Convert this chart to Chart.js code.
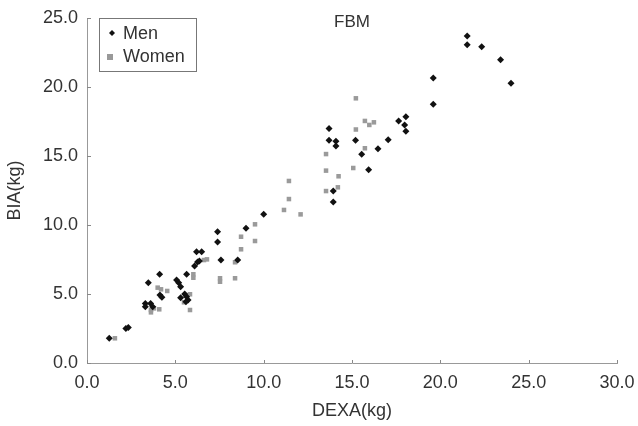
<!DOCTYPE html>
<html>
<head>
<meta charset="utf-8">
<script src="https://cdn.jsdelivr.net/npm/chart.js@4"></script>
<style>
  html, body { margin: 0; padding: 0; background: #fff; }
  canvas { display: block; }
</style>
</head>
<body>
<canvas id="grafico" width="638" height="426"></canvas>
<script>
// values (DEXA kg, BIA kg)
const menX = [1.26, 2.2, 2.34, 3.3, 3.3, 3.6, 3.72, 3.47, 4.11, 4.13, 4.24, 5.07, 5.19, 5.3, 5.64, 5.3, 5.53, 5.64, 5.72, 5.6,
  6.09, 6.26, 6.36, 6.2, 6.49, 7.58, 7.39, 7.39, 8.53, 9.0, 10.0, 13.94, 13.94, 13.7, 13.7, 14.09, 14.09, 15.2, 15.55, 15.94,
  16.47, 17.05, 17.64, 18.05, 17.98, 18.05, 19.6, 19.6, 21.52, 21.52, 22.34, 23.41, 24.0];
const menY = [1.79, 2.5, 2.58, 4.32, 4.08, 4.32, 4.08, 5.82, 6.43, 4.93, 4.76, 6.01, 5.82, 5.53, 6.43, 4.73, 5.0, 4.8, 4.57, 4.44,
  7.03, 7.32, 7.39, 8.07, 8.07, 7.46, 9.51, 8.77, 7.46, 9.76, 10.77, 12.46, 11.67, 17.0, 16.14, 16.07, 15.72, 16.14, 15.12, 14.01,
  15.53, 16.18, 17.54, 17.85, 17.25, 16.79, 18.75, 20.65, 23.7, 23.07, 22.92, 21.98, 20.27];

const womenX = [1.58, 4.0, 4.19, 4.54, 3.62, 3.62, 3.79, 4.09, 6.02, 6.02, 5.83, 5.49, 5.83, 6.62, 6.79, 7.53, 7.53, 8.38, 8.38,
  8.72, 9.51, 9.51, 8.72, 11.15, 11.43, 11.43, 12.09, 13.53, 14.2, 13.53, 13.53, 14.24, 15.07, 15.73, 15.22, 15.73, 15.98, 16.24, 15.22];
const womenY = [1.79, 5.46, 5.34, 5.22, 3.84, 3.67, 3.96, 3.89, 6.43, 6.18, 4.98, 4.4, 3.84, 7.46, 7.51, 6.14, 5.89, 7.3, 6.14,
  9.15, 10.05, 8.84, 8.24, 11.09, 11.88, 13.19, 10.77, 12.46, 12.73, 15.14, 13.94, 13.53, 14.13, 15.56, 16.92, 17.54, 17.25, 17.44, 19.18];

const xTicks = [0, 5, 10, 15, 20, 25, 30];
const yTicks = [0, 5, 10, 15, 20, 25];

const pares = (xs, ys) => xs.map((x, i) => ({ x, y: ys[i] }));

const corTexto = '#333';
const fonte = 'Liberation Sans, Arial, sans-serif';

// ticks pequenos para dentro, titulo FBM e legenda com moldura
const extras = {
  id: 'extras',
  afterDraw(chart) {
    const ctx = chart.ctx;
    const sx = chart.scales.x, sy = chart.scales.y;
    const a = chart.chartArea;
    ctx.save();
    ctx.strokeStyle = '#888';
    ctx.lineWidth = 1;
    yTicks.forEach(v => {
      const py = Math.round(sy.getPixelForValue(v)) + 0.5;
      ctx.beginPath(); ctx.moveTo(a.left, py); ctx.lineTo(a.left + 4, py); ctx.stroke();
    });
    xTicks.forEach(v => {
      const px = Math.round(sx.getPixelForValue(v)) + 0.5;
      ctx.beginPath(); ctx.moveTo(px, a.bottom); ctx.lineTo(px, a.bottom - 3); ctx.stroke();
    });

    ctx.fillStyle = corTexto;
    ctx.font = '17px ' + fonte;
    ctx.textAlign = 'center';
    ctx.textBaseline = 'middle';
    ctx.fillText('FBM', (a.left + a.right) / 2, 22);

    // legenda
    ctx.strokeStyle = '#777';
    ctx.strokeRect(99.5, 18.5, 97, 53);
    ctx.textAlign = 'left';
    ctx.font = '18px ' + fonte;
    ctx.fillStyle = '#111';
    ctx.beginPath();
    ctx.moveTo(112, 30); ctx.lineTo(115, 33); ctx.lineTo(112, 36); ctx.lineTo(109, 33); ctx.closePath(); ctx.fill();
    ctx.fillStyle = corTexto;
    ctx.fillText('Men', 123, 34);
    ctx.fillStyle = '#999';
    ctx.fillRect(107, 54, 6, 6);
    ctx.fillStyle = corTexto;
    ctx.fillText('Women', 123, 57);
    ctx.restore();
  }
};

new Chart(document.getElementById('grafico'), {
  type: 'scatter',
  data: {
    datasets: [{
      label: 'Men',
      data: pares(menX, menY),
      pointStyle: 'rectRot',
      pointRadius: 3.5,
      backgroundColor: '#111',
      borderColor: '#111',
      borderWidth: 0
    }, {
      label: 'Women',
      data: pares(womenX, womenY),
      pointStyle: 'rect',
      pointRadius: 3.2,
      backgroundColor: '#9a9a9a',
      borderColor: '#9a9a9a',
      borderWidth: 0
    }]
  },
  options: {
    responsive: false,
    animation: false,
    devicePixelRatio: 1,
    layout: { padding: { left: 0, right: 21, top: 18, bottom: 0 } },
    plugins: { legend: { display: false }, tooltip: { enabled: false } },
    scales: {
      x: {
        type: 'linear', min: 0, max: 30,
        afterBuildTicks: s => { s.ticks = xTicks.map(v => ({ value: v })); },
        afterFit: s => { s.height = 63; s.paddingLeft = 0; s.paddingRight = 0; },
        grid: { display: false, drawTicks: false },
        border: { color: '#999', width: 1 },
        ticks: { padding: 9, maxRotation: 0, color: corTexto, font: { size: 18, family: fonte }, callback: v => v.toFixed(1) },
        title: { display: true, text: 'DEXA(kg)', color: corTexto, font: { size: 18, family: fonte }, padding: { top: 3 } }
      },
      y: {
        type: 'linear', min: 0, max: 25,
        afterBuildTicks: s => { s.ticks = yTicks.map(v => ({ value: v })); },
        afterFit: s => { s.width = 87; s.paddingTop = 0; s.paddingBottom = 0; },
        grid: { display: false, drawTicks: false },
        border: { color: '#999', width: 1 },
        ticks: { padding: 9, color: corTexto, font: { size: 18, family: fonte }, callback: v => v.toFixed(1) },
        title: { display: true, text: 'BIA(kg)', color: corTexto, font: { size: 18, family: fonte }, padding: { bottom: 0 } }
      }
    }
  },
  plugins: [extras]
});
</script>
</body>
</html>
